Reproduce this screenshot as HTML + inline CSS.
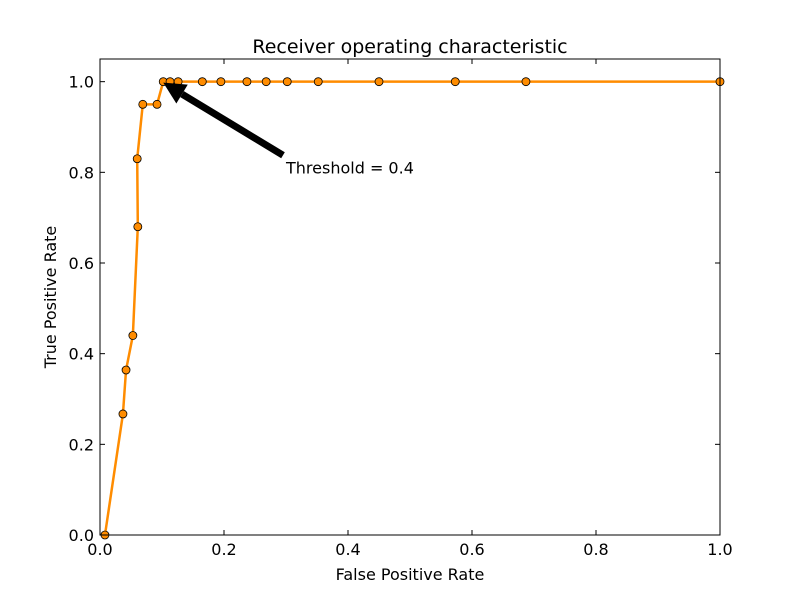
<!DOCTYPE html>
<html><head><meta charset="utf-8"><style>
body{margin:0;background:#fff;}
svg{display:block;font-family:"DejaVu Sans","Liberation Sans",sans-serif;}
</style></head><body>
<svg id="chart" width="800" height="595">
<rect width="800" height="595" fill="#fff"/>
<g id="plot"></g>
</svg>
<script>
const fpr = [0.008,0.037,0.042,0.053,0.061,0.060,0.069,0.092,0.102,0.113,0.126,0.165,0.195,0.237,0.268,0.302,0.352,0.45,0.573,0.687,1.0];
const tpr = [0,0.267,0.364,0.44,0.68,0.83,0.95,0.95,1,1,1,1,1,1,1,1,1,1,1,1,1];
const xTicks = [0,0.2,0.4,0.6,0.8,1.0];
const xTickLabels = ["0.0","0.2","0.4","0.6","0.8","1.0"];
const yTicks = [0,0.2,0.4,0.6,0.8,1.0];
const yTickLabels = ["0.0","0.2","0.4","0.6","0.8","1.0"];
const annotPoint = [0.102,1.0];
const annotText = [0.3,0.82];

const L=100,R=720,T=59,B=535;
const xs=v=>L+v*(R-L);
const ys=v=>B-v/1.05*(B-T);
const NS="http://www.w3.org/2000/svg";
const g=document.getElementById('plot');
function mk(tag,attrs){const e=document.createElementNS(NS,tag);for(const k in attrs)e.setAttribute(k,attrs[k]);g.appendChild(e);return e;}

xTicks.forEach((t,i)=>{
  const x=xs(t);
  let e=mk('line',{x1:x,x2:x,y1:B,y2:B-5,stroke:'#000'});
  
  
  e=mk('line',{x1:x,x2:x,y1:T,y2:T+5,stroke:'#000'});
  
  
  e=mk('text',{x:x,y:B+20,'font-size':16,'text-anchor':'middle'});e.textContent=xTickLabels[i];
  
  
});
yTicks.forEach((t,i)=>{
  const y=ys(t);
  let e=mk('line',{x1:L,x2:L+5,y1:y,y2:y,stroke:'#000'});
  
  
  e=mk('line',{x1:R,x2:R-5,y1:y,y2:y,stroke:'#000'});
  
  
  e=mk('text',{x:L-6,y:y+6,'font-size':16,'text-anchor':'end'});e.textContent=yTickLabels[i];
  
  
});

let pts=fpr.map((v,i)=>xs(v)+','+ys(tpr[i])).join(' ');
let line=mk('polyline',{points:pts,fill:'none',stroke:'#ff8c00','stroke-width':2.5});


fpr.forEach((v,i)=>{
  const c=mk('circle',{cx:xs(v),cy:ys(tpr[i]),r:4,fill:'#ff8c00',stroke:'#000','stroke-width':0.8});
  
  
});

// annotation arrow
const ax1=xs(annotText[0])-3,ay1=ys(annotText[1])-8,ax2=xs(annotPoint[0]),ay2=ys(annotPoint[1])+1;
const dx=ax2-ax1,dy=ay2-ay1,len=Math.hypot(dx,dy),ux=dx/len,uy=dy/len;
const hb=[ax2-ux*22,ay2-uy*22];
let sh=mk('line',{x1:ax1,y1:ay1,x2:hb[0],y2:hb[1],stroke:'#000','stroke-width':7});


let hd=mk('polygon',{points:`${ax2},${ay2} ${hb[0]-uy*11},${hb[1]+ux*11} ${hb[0]+uy*11},${hb[1]-ux*11}`,fill:'#000'});


let at=mk('text',{x:xs(annotText[0]),y:ys(annotText[1])+10,'font-size':16});at.textContent='Threshold = 0.4';



let fr=mk('rect',{x:L,y:T,width:R-L,height:B-T,fill:'none',stroke:'#000','stroke-width':1});


let tt=mk('text',{x:410,y:53,'font-size':19,'text-anchor':'middle'});tt.textContent='Receiver operating characteristic';


let xl=mk('text',{x:410,y:580,'font-size':16,'text-anchor':'middle'});xl.textContent='False Positive Rate';


let yl=mk('text',{x:56,y:297,'font-size':16,'text-anchor':'middle',transform:'rotate(-90 56 297)'});yl.textContent='True Positive Rate';


</script>
</body></html>
